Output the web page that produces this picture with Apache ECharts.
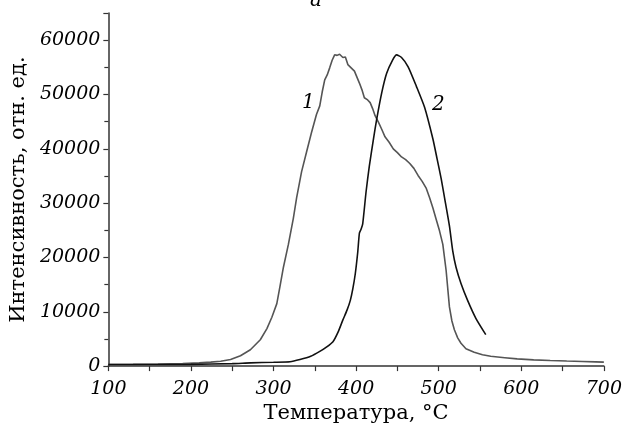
<!DOCTYPE html>
<html><head><meta charset="utf-8">
<script src="https://cdn.jsdelivr.net/npm/echarts@6/dist/echarts.min.js"></script>
<style>html,body{margin:0;padding:0;background:#fff}#c{width:625px;height:429px}</style>
</head><body><div id="c"></div>
<script>
const xTitle = 'Температура, °C';
const yTitle = 'Интенсивность, отн. ед.';
const chartTitle = 'a';
const curve1Name = '1';
const curve2Name = '2';
const xTicks = [100, 200, 300, 400, 500, 600, 700];
const yTicks = [0, 10000, 20000, 30000, 40000, 50000, 60000];

const curve1X = [100,130,160,190,210,224,236,248,260,272,284,292,298,304,308,312,318,324,328,334,340,346,352,356,359,362,365,368,371,374,377,380,384,387,390,394,398,401,404,407,410,414,417,420,423,427,431,435,440,445,450,455,460,465,470,475,480,485,489,493,497,501,505,509,513,516,519,523,527,533,543,553,563,580,595,615,635,655,674,690,700];
const curve1Y = [300,320,380,480,600,730,900,1200,1900,3000,4850,6900,9000,11500,14800,18200,22400,27200,31000,35800,39400,43000,46300,47900,50500,52700,53600,54900,56300,57300,57200,57400,56800,56900,55500,54900,54300,53200,52100,50900,49400,49000,48500,47400,46100,44900,43600,42200,41200,40000,39300,38500,38000,37300,36400,35100,34000,32700,31000,29100,27000,24900,22400,17600,10900,8300,6700,5200,4200,3200,2550,2100,1800,1550,1330,1150,1030,930,850,780,730];

const curve2X = [100,150,200,250,272,300,320,332,345,356,364,372,378,384,389,393,396,399,402,404,406,408,412,416,421,425,431,437,444,449,455,463,473,483,493,498,503,508,513,517,521,527,535,545,557];
const curve2Y = [300,300,320,450,600,700,800,1200,1800,2700,3500,4500,6200,8500,10300,12100,14200,17000,21000,24500,25200,26200,32000,36800,41800,45500,50300,53900,56300,57300,56800,55100,51500,47600,41800,38200,34500,30200,25800,21200,18200,15200,12100,8800,5800];

const chart = echarts.init(document.getElementById('c'));
const serif = 'DejaVu Serif';
chart.setOption({
  animation: false,
  backgroundColor: '#fff',
  title: {text: chartTitle, left: 305, top: -14, textStyle: {fontFamily: serif, fontStyle: 'italic', fontSize: 20, fontWeight: 'normal', color: '#000'}},
  grid: {left: 106, right: 17, top: 13, bottom: 59},
  xAxis: {
    type: 'value', min: xTicks[0], max: xTicks[xTicks.length-1], interval: 100,
    name: xTitle, nameLocation: 'middle', nameGap: 36,
    nameTextStyle: {fontFamily: serif, fontSize: 21, color: '#000'},
    axisLine: {lineStyle: {color: '#333', width: 1.5}},
    axisTick: {show: true, length: 5, inside: false, lineStyle: {color: '#333', width: 1.2}},
    minorTick: {show: true, splitNumber: 2, length: 5, lineStyle: {color: '#333', width: 1.2}},
    axisLabel: {fontFamily: serif, fontStyle: 'italic', fontSize: 19, color: '#000', margin: 13},
    splitLine: {show: false}
  },
  yAxis: {
    type: 'value', min: 0, max: 65000, interval: 10000,
    name: yTitle, nameLocation: 'middle', nameGap: 74,
    nameTextStyle: {fontFamily: serif, fontSize: 21, color: '#000'},
    axisLine: {show: true, lineStyle: {color: '#333', width: 1.5}},
    axisTick: {show: true, length: 5, lineStyle: {color: '#333', width: 1.2}},
    minorTick: {show: true, splitNumber: 2, length: 4, lineStyle: {color: '#333', width: 1.2}},
    axisLabel: {fontFamily: serif, fontStyle: 'italic', fontSize: 19, color: '#000', margin: 8,
      formatter: v => yTicks.indexOf(v) >= 0 ? String(v) : ''},
    splitLine: {show: false}
  },
  series: [
    {name: curve1Name, type: 'line', showSymbol: false, data: curve1X.map((x, i) => [x, curve1Y[i]]),
     lineStyle: {color: '#555', width: 1.6}, z: 2},
    {name: curve2Name, type: 'line', showSymbol: false, smooth: 0.2, data: curve2X.map((x, i) => [x, curve2Y[i]]),
     lineStyle: {color: '#111', width: 1.6}, z: 3}
  ],
  graphic: [
    {type: 'text', left: 302, top: 93, style: {text: curve1Name, font: 'italic 20px "DejaVu Serif"', fill: '#000'}},
    {type: 'text', left: 432, top: 95, style: {text: curve2Name, font: 'italic 20px "DejaVu Serif"', fill: '#000'}}
  ]
});
</script></body></html>
